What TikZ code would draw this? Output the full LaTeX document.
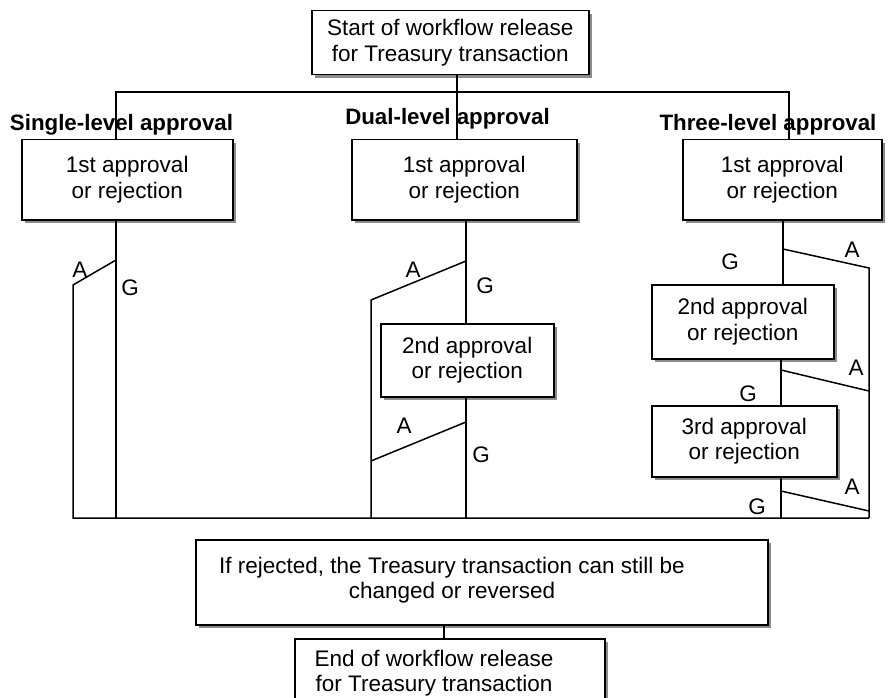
\documentclass[tikz,border=0pt]{standalone}
\usepackage{fontspec}
\setmainfont{Liberation Sans}
\usetikzlibrary{shadows}
\begin{document}
\begin{tikzpicture}[x=1pt,y=-1pt,
  box/.style={draw, line width=1.5pt, fill=white, inner sep=0pt, align=center, anchor=north west,
    font=\fontsize{22.5}{25.5}\selectfont,
    drop shadow={shadow xshift=3.5pt, shadow yshift=-3.5pt, fill=black!45, opacity=1}},
  txt/.style={inner sep=0pt, align=center, font=\fontsize{22.5}{25.5}\selectfont},
  lab/.style={inner sep=0pt, font=\fontsize{22.3}{25}\selectfont\bfseries},
  ag/.style={inner sep=0pt, font=\fontsize{22.5}{25}\selectfont},
  ln/.style={line width=1.5pt}]
\useasboundingbox (0,0) rectangle (889,698);
\clip (0,0) rectangle (889,698);

% boxes
\node[box, minimum width=277, minimum height=64] (start) at (311,10) {Start of workflow release\\for Treasury transaction};
\node[box, minimum width=211, minimum height=80] (s1) at (21,139) {1st approval\\or rejection};
\node[box, minimum width=225, minimum height=80] (d1) at (351,139) {1st approval\\or rejection};
\node[box, minimum width=199, minimum height=80] (t1) at (682,139) {1st approval\\or rejection};
\node[box, minimum width=173, minimum height=73] (d2) at (380,323) {2nd approval\\or rejection};
\node[box, minimum width=182, minimum height=74] (t2) at (651,284) {2nd approval\\or rejection};
\node[box, minimum width=185, minimum height=71] (t3) at (651,405) {3rd approval\\or rejection};
\node[box, minimum width=572, minimum height=85] (rej) at (195,539) {};
\node[box, minimum width=310, minimum height=80] (endb) at (294,638) {};
\node[txt] (rejtxt) at (452,580) {If rejected, the Treasury transaction can still be\\changed or reversed};
\node[txt] (endtxt) at (434,673) {End of workflow release\\for Treasury transaction};

% coordinates
\coordinate (hl) at (116,92);
\coordinate (hr) at (789,92);
\coordinate (hm) at (457,92);
\coordinate (sv) at (116,0);
\coordinate (sa1) at (116,260);
\coordinate (sa2) at (73,285);
\coordinate (bl) at (73,518);
\coordinate (br) at (869,518);
\coordinate (dv) at (466,0);
\coordinate (da1) at (466,261);
\coordinate (da2) at (371,300);
\coordinate (db1) at (466,422);
\coordinate (db2) at (371,461);
\coordinate (tv1) at (783,0);
\coordinate (ta1) at (783,249);
\coordinate (ta2) at (869,268);
\coordinate (tv2) at (781,0);
\coordinate (tb1) at (781,370);
\coordinate (tb2) at (869,391);
\coordinate (tc1) at (781,491);
\coordinate (tc2) at (869,511);
\coordinate (bv) at (444,0);

% top tree
\draw[ln] (start.south -| hm) -- (d1.north -| hm);
\draw[ln] (s1.north -| hl) -- (hl) -- (hr) -- (t1.north -| hr);

% single level
\draw[ln] (s1.south -| sv) -- (sv |- bl);
\draw[ln] (sa1) -- (sa2) -- (bl) -- (br);

% dual level
\draw[ln] (d1.south -| dv) -- (d2.north -| dv);
\draw[ln] (da1) -- (da2) -- (da2 |- bl);
\draw[ln] (d2.south -| dv) -- (dv |- bl);
\draw[ln] (db1) -- (db2);

% three level
\draw[ln] (t1.south -| tv1) -- (t2.north -| tv1);
\draw[ln] (ta1) -- (ta2) -- (br);
\draw[ln] (t2.south -| tv2) -- (t3.north -| tv2);
\draw[ln] (tb1) -- (tb2);
\draw[ln] (t3.south -| tv2) -- (tv2 |- br);
\draw[ln] (tc1) -- (tc2);

% bottom
\draw[ln] (rej.south -| bv) -- (endb.north -| bv);

% labels
\node[lab] (lsingle) at (121.5,125) {Single-level approval};
\node[lab] (ldual) at (447.5,119) {Dual-level approval};
\node[lab] (lthree) at (768,125) {Three-level approval};

\node[ag] (sA) at (80,270) {A};
\node[ag] (sG) at (130,288) {G};
\node[ag] (dA1) at (413,270) {A};
\node[ag] (dG1) at (485,286) {G};
\node[ag] (dA2) at (404,426) {A};
\node[ag] (dG2) at (481,455) {G};
\node[ag] (tA1) at (852,250) {A};
\node[ag] (tG1) at (730,262) {G};
\node[ag] (tA2) at (856,368) {A};
\node[ag] (tG2) at (748,394) {G};
\node[ag] (tA3) at (852,487) {A};
\node[ag] (tG3) at (757,507) {G};
\end{tikzpicture}
\end{document}
